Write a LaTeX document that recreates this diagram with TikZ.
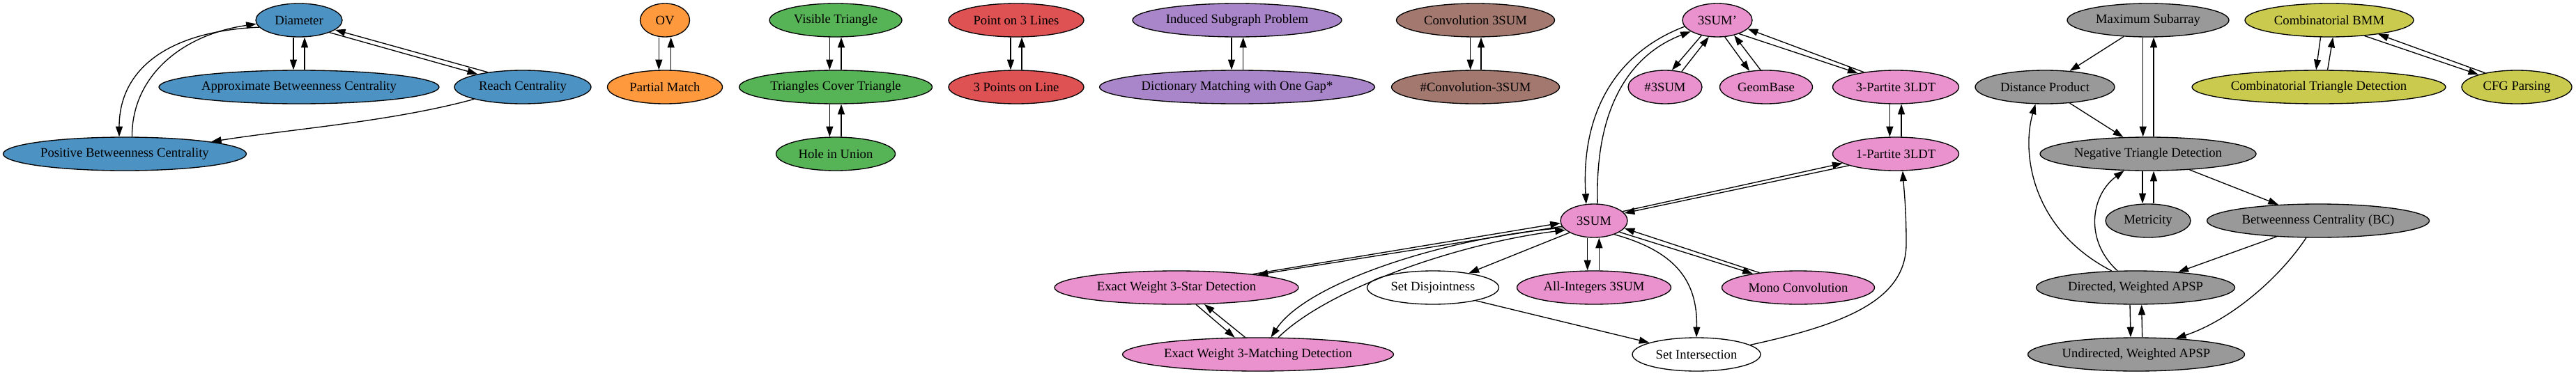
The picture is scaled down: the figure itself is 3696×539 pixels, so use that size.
\documentclass[tikz,border=0pt]{standalone}
\usepackage{fontspec}
\setmainfont{Liberation Serif}
\usetikzlibrary{arrows.meta,shapes.geometric}
\definecolor{cBlue}{RGB}{76,146,195}
\definecolor{cOrange}{RGB}{255,153,62}
\definecolor{cGreen}{RGB}{86,179,86}
\definecolor{cRed}{RGB}{222,82,83}
\definecolor{cPurple}{RGB}{169,133,202}
\definecolor{cBrown}{RGB}{163,120,111}
\definecolor{cPink}{RGB}{233,146,206}
\definecolor{cGray}{RGB}{153,153,153}
\definecolor{cOlive}{RGB}{201,202,78}
\newcommand\nt[1]{\makebox[0pt]{#1}}
\tikzset{
  el/.style={ellipse, draw=black, line width=1pt, minimum height=36pt, inner sep=0pt,
    font=\fontsize{14}{16}\selectfont},
  w/.style={minimum width=#1*0.75pt},
  ar/.style={draw=black, line width=1pt, -{Triangle[length=11pt,width=7.5pt]}},
}
\begin{document}
\begin{tikzpicture}[x=0.75pt,y=-0.75pt]
\useasboundingbox (0,0) rectangle (3696,539);
% blue
\node[el,fill=cBlue,w=124] (D) at (429,29) {\nt{Diameter}};
\node[el,fill=cBlue,w=402] (ABC) at (429,125) {\nt{Approximate Betweenness Centrality}};
\node[el,fill=cBlue,w=196] (RC) at (750,125) {\nt{Reach Centrality}};
\node[el,fill=cBlue,w=349] (PBC) at (179,221) {\nt{Positive Betweenness Centrality}};
% orange
\node[el,fill=cOrange,w=71] (OV) at (954,29) {\nt{OV}};
\node[el,fill=cOrange,w=165] (PM) at (954,125) {\nt{Partial Match}};
% green
\node[el,fill=cGreen,w=190] (VT) at (1199,29) {\nt{Visible Triangle}};
\node[el,fill=cGreen,w=277] (TCT) at (1199,125) {\nt{Triangles Cover Triangle}};
\node[el,fill=cGreen,w=171] (HU) at (1199,221) {\nt{Hole in Union}};
% red
\node[el,fill=cRed,w=194] (PTL) at (1458,29) {\nt{Point on 3 Lines}};
\node[el,fill=cRed,w=194] (TPL) at (1458,125) {\nt{3 Points on Line}};
% purple
\node[el,fill=cPurple,w=300] (ISP) at (1775,29) {\nt{Induced Subgraph Problem}};
\node[el,fill=cPurple,w=395] (DMG) at (1775,125) {\nt{Dictionary Matching with One Gap*}};
% brown
\node[el,fill=cBrown,w=227] (CS) at (2117,29) {\nt{Convolution 3SUM}};
\node[el,fill=cBrown,w=241] (NCS) at (2117,125) {\nt{\#Convolution-3SUM}};
% pink
\node[el,fill=cPink,w=100] (S3p) at (2464,29) {\nt{3SUM'}};
\node[el,fill=cPink,w=106] (NS3) at (2389,125) {\nt{\#3SUM}};
\node[el,fill=cPink,w=133] (GB) at (2534,125) {\nt{GeomBase}};
\node[el,fill=cPink,w=181] (P3) at (2720,125) {\nt{3-Partite 3LDT}};
\node[el,fill=cPink,w=181] (P1) at (2720,221) {\nt{1-Partite 3LDT}};
\node[el,fill=cPink,w=96] (S3) at (2287,317) {\nt{3SUM}};
\node[el,fill=white,w=189] (SD) at (2056,413) {\nt{Set Disjointness}};
\node[el,fill=cPink,w=221] (AI) at (2287,413) {\nt{All-Integers 3SUM}};
\node[el,fill=cPink,w=219] (MC) at (2580,413) {\nt{Mono Convolution}};
\node[el,fill=white,w=184] (SI) at (2434,509) {\nt{Set Intersection}};
\node[el,fill=cPink,w=350] (EWS) at (1688,413) {\nt{Exact Weight 3-Star Detection}};
\node[el,fill=cPink,w=389] (EWM) at (1805,509) {\nt{Exact Weight 3-Matching Detection}};
% gray
\node[el,fill=cGray,w=232] (MS) at (3082,29) {\nt{Maximum Subarray}};
\node[el,fill=cGray,w=200] (DP) at (2934,125) {\nt{Distance Product}};
\node[el,fill=cGray,w=310] (NTD) at (3082,221) {\nt{Negative Triangle Detection}};
\node[el,fill=cGray,w=122] (MET) at (3082,317) {\nt{Metricity}};
\node[el,fill=cGray,w=319] (BC) at (3326,317) {\nt{Betweenness Centrality (BC)}};
\node[el,fill=cGray,w=285] (DWA) at (3064,413) {\nt{Directed, Weighted APSP}};
\node[el,fill=cGray,w=311] (UWA) at (3065,509) {\nt{Undirected, Weighted APSP}};
% olive
\node[el,fill=cOlive,w=242] (BMM) at (3342,29) {\nt{Combinatorial BMM}};
\node[el,fill=cOlive,w=364] (CTD) at (3327,125) {\nt{Combinatorial Triangle Detection}};
\node[el,fill=cOlive,w=158] (CFG) at (3611,125) {\nt{CFG Parsing}};

% ---- edges: blue
\draw[ar] (D.190) .. controls (240,45) and (171,100) .. (PBC.108);
\draw[ar] (PBC.67) .. controls (189,110) and (260,50) .. (D.185);
\draw[ar] ([xshift=-6pt]D.south) -- ([xshift=-6pt]ABC.north);
\draw[ar] ([xshift=6pt]ABC.north) -- ([xshift=6pt]D.south);
\draw[ar] (D.-22) -- (RC.164);
\draw[ar] (RC.157) -- (D.-15);
\draw[ar] (RC.194) .. controls (560,175) and (420,185) .. (PBC.8);
% orange, green, red, purple, brown
\draw[ar] ([xshift=-6.5pt]OV.south) -- ([xshift=-6.5pt]PM.north);
\draw[ar] ([xshift=6.5pt]PM.north) -- ([xshift=6.5pt]OV.south);
\draw[ar] ([xshift=-6.5pt]VT.south) -- ([xshift=-6.5pt]TCT.north);
\draw[ar] ([xshift=6pt]TCT.north) -- ([xshift=6pt]VT.south);
\draw[ar] ([xshift=-6.5pt]TCT.south) -- ([xshift=-6.5pt]HU.north);
\draw[ar] ([xshift=6pt]HU.north) -- ([xshift=6pt]TCT.south);
\draw[ar] ([xshift=-6pt]PTL.south) -- ([xshift=-6pt]TPL.north);
\draw[ar] ([xshift=6pt]TPL.north) -- ([xshift=6pt]PTL.south);
\draw[ar] ([xshift=-6pt]ISP.south) -- ([xshift=-6pt]DMG.north);
\draw[ar] ([xshift=6.5pt]DMG.north) -- ([xshift=6.5pt]ISP.south);
\draw[ar] ([xshift=-5.5pt]CS.south) -- ([xshift=-5.5pt]NCS.north);
\draw[ar] ([xshift=6pt]NCS.north) -- ([xshift=6pt]CS.south);
% pink
\draw[ar] (S3p.191) .. controls (2320,75) and (2268,160) .. (S3.115);
\draw[ar] (S3.78) .. controls (2288,160) and (2335,80) .. (S3p.203);
\draw[ar] (S3p.224) -- (NS3.68);
\draw[ar] (NS3.43) -- (S3p.243);
\draw[ar] (S3p.-66) -- (GB.136);
\draw[ar] (GB.108) -- (S3p.-42);
\draw[ar] (S3p.-32) -- (P3.160);
\draw[ar] (P3.155) -- (S3p.-16);
\draw[ar] ([xshift=-6.5pt]P3.south) -- ([xshift=-6.5pt]P1.north);
\draw[ar] ([xshift=6pt]P1.north) -- ([xshift=6pt]P3.south);
\draw[ar] (S3.18) -- (P1.190);
\draw[ar] (P1.194) -- (S3.14);
\draw[ar] (SI.10) .. controls (2650,465) and (2735,430) .. (2735,350)
                  .. controls (2735,300) and (2732,275) .. (P1.-68);
\draw[ar] (S3.206) -- (SD.22);
\draw[ar] ([xshift=-7pt]S3.south) -- ([xshift=-7pt]AI.north);
\draw[ar] ([xshift=5.5pt]AI.north) -- ([xshift=5.5pt]S3.south);
\draw[ar] (S3.-24) -- (MC.163);
\draw[ar] (MC.159) -- (S3.-14);
\draw[ar] (S3.-34) .. controls (2400,360) and (2436,400) .. (SI.north);
\draw[ar] (SD.-17) -- (SI.166);
\draw[ar] (S3.190) -- (EWS.9);
\draw[ar] (EWS.10) -- (S3.184);
\draw[ar] (S3.193) .. controls (2080,340) and (1875,405) .. (EWM.53);
\draw[ar] (EWM.40) .. controls (1905,415) and (2090,350) .. (S3.198);
\draw[ar] (EWS.-41) -- (EWM.144);
\draw[ar] (EWM.127) -- (EWS.-31);
% gray
\draw[ar] (MS.214) -- (DP.33);
\draw[ar] ([xshift=-5.5pt]MS.south) -- ([xshift=-5.5pt]NTD.north);
\draw[ar] ([xshift=6pt]NTD.north) -- ([xshift=6pt]MS.south);
\draw[ar] (DP.-33) -- (NTD.146);
\draw[ar] ([xshift=-6pt]NTD.south) -- ([xshift=-6pt]MET.north);
\draw[ar] ([xshift=6pt]MET.north) -- ([xshift=6pt]NTD.south);
\draw[ar] (NTD.-21) -- (BC.158);
\draw[ar] (BC.201) -- (DWA.20);
\draw[ar] (BC.235) .. controls (3270,400) and (3200,460) .. (UWA.22);
\draw[ar] ([xshift=-6pt]DWA.south) -- ([xshift=-6pt]UWA.north);
\draw[ar] ([xshift=6.5pt]UWA.north) -- ([xshift=6.5pt]DWA.south);
\draw[ar] (DWA.145) .. controls (2915,330) and (2900,220) .. (DP.241);
\draw[ar] (DWA.137) .. controls (2990,345) and (3000,280) .. (NTD.215);
% olive
\draw[ar] (BMM.243) -- (CTD.99);
\draw[ar] (CTD.63) -- (BMM.-78);
\draw[ar] (BMM.-24) -- (CFG.162);
\draw[ar] (CFG.156) -- (BMM.-16);
\end{tikzpicture}
\end{document}
